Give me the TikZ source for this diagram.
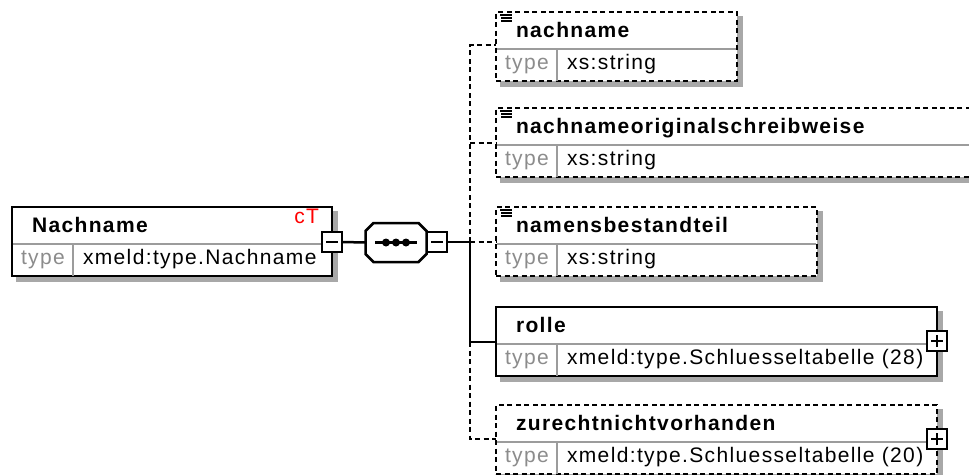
\documentclass[tikz,border=0pt]{standalone}
\usepackage{fontspec}
\setmainfont{Liberation Sans}[LetterSpace=6.5]
\usetikzlibrary{shadows,calc}

\definecolor{shadowgray}{HTML}{A8A8A8}
\definecolor{sepgray}{HTML}{9C9C9C}
\definecolor{typegray}{HTML}{8C8C8C}
\definecolor{ctred}{HTML}{FF0000}

\tikzset{
  dashpat/.style={dash pattern=on 5pt off 3.5pt},
  elem/.style={draw, line width=2.6pt, fill=white, minimum height=69pt,
    inner sep=0pt, outer sep=0pt,
    drop shadow={shadow xshift=5pt, shadow yshift=-5pt, fill=shadowgray,
      draw=shadowgray, solid, opacity=1}},
  sep/.style={draw=sepgray, line width=1.8pt, shorten <=1.3pt, shorten >=1.3pt},
  txt/.style={anchor=base west, inner sep=0pt, outer sep=0pt,
    font=\fontsize{21}{25}\selectfont},
  title/.style={txt, font=\fontsize{21}{25}\selectfont\bfseries},
  typelbl/.style={txt, text=typegray},
  typeval/.style={txt},
  tog/.style={draw, line width=2pt, fill=white, minimum size=20pt,
    inner sep=0pt, outer sep=0pt},
  minusbox/.style={tog, path picture={\draw[line width=2.2pt]
    ([xshift=-6pt]path picture bounding box.center) --
    ([xshift=6pt]path picture bounding box.center);}},
  plusbox/.style={tog, path picture={\draw[line width=2.2pt]
    ([xshift=-6pt]path picture bounding box.center) --
    ([xshift=6pt]path picture bounding box.center)
    ([yshift=-6pt]path picture bounding box.center) --
    ([yshift=6pt]path picture bounding box.center);}},
  wire/.style={line width=2.5pt},
}

% element box: name, left, top, width, border style, title, type
\newcommand\elembox[7]{%
  \node[elem, #5, minimum width=#4pt, anchor=north west] (#1) at (#2,#3) {};
  \draw[sep] ([yshift=-37pt]#1.north west) -- ([yshift=-37pt]#1.north east);
  \draw[sep, shorten >=0pt] ([xshift=61pt,yshift=-37pt]#1.north west) -- ([xshift=61pt]#1.south west);
  \node[title] (#1-title) at ([xshift=20pt,yshift=-25pt]#1.north west) {#6};
  \node[typelbl] (#1-typelbl) at ([xshift=9pt,yshift=-57pt]#1.north west) {type};
  \node[typeval] (#1-typeval) at ([xshift=71pt,yshift=-57pt]#1.north west) {#7};
}
% simple-content marker in the upper left corner of a box
\newcommand\contentmark[1]{%
  \draw[line width=1.8pt]
    ([xshift=4pt,yshift=-3pt]#1.north west) -- ([xshift=16pt,yshift=-3pt]#1.north west)
    ([xshift=5pt,yshift=-6pt]#1.north west) -- ([xshift=16pt,yshift=-6pt]#1.north west)
    ([xshift=5pt,yshift=-9pt]#1.north west) -- ([xshift=16pt,yshift=-9pt]#1.north west);
}

\begin{document}
\begin{tikzpicture}[x=1pt, y=-1pt]
\useasboundingbox (0,0) rectangle (969,474);
\clip (0,0) rectangle (969,474);

% complex type
\elembox{main}{12}{207}{320}{solid}{Nachname}{xmeld:type.Nachname}
\node[txt, anchor=base east, text=ctred] (ct) at (319,223) {cT};
\node[minusbox] (m1) at (332,242) {};

% sequence compositor
\node[minimum width=61pt, minimum height=39pt, inner sep=0pt, outer sep=0pt] (seq) at (396,242.5) {};
\fill[shadowgray, shift={(5,5)}]
  ($(seq.north west)+(8,0)$) -- ($(seq.north east)+(-8,0)$) -- ($(seq.north east)+(0,8)$) --
  ($(seq.south east)+(0,-8)$) -- ($(seq.south east)+(-8,0)$) -- ($(seq.south west)+(8,0)$) --
  ($(seq.south west)+(0,-8)$) -- ($(seq.north west)+(0,8)$) -- cycle;
\filldraw[fill=white, line width=2.5pt]
  ($(seq.north west)+(8,0)$) -- ($(seq.north east)+(-8,0)$) -- ($(seq.north east)+(0,8)$) --
  ($(seq.south east)+(0,-8)$) -- ($(seq.south east)+(-8,0)$) -- ($(seq.south west)+(8,0)$) --
  ($(seq.south west)+(0,-8)$) -- ($(seq.north west)+(0,8)$) -- cycle;
\draw[line width=2.4pt] ([xshift=-21pt]seq.center) -- ([xshift=21pt]seq.center);
\foreach \dx in {-10,0,10}
  \fill ([xshift=\dx pt]seq.center) circle (4pt);
\node[minusbox] (m2) at (437,242) {};

% child elements
\elembox{nachname}{496}{12}{241}{dashpat}{nachname}{xs:string}
\contentmark{nachname}
\elembox{orig}{496}{108}{530}{dashpat}{nachnameoriginalschreibweise}{xs:string}
\contentmark{orig}
\elembox{bestandteil}{496}{207}{321}{dashpat}{namensbestandteil}{xs:string}
\contentmark{bestandteil}
\elembox{rolle}{496}{307}{441}{solid}{rolle}{xmeld:type.Schluesseltabelle (28)}
\node[plusbox] (p1) at (937,341) {};
\elembox{zurecht}{496}{405}{441}{dashpat}{zurechtnichtvorhanden}{xmeld:type.Schluesseltabelle (20)}
\node[plusbox] (p2) at (937,439) {};

% connectors
\coordinate (bus) at (470,242);
\coordinate (c1) at ([yshift=-33pt]nachname.north west);
\coordinate (c2) at ([yshift=-35pt]orig.north west);
\coordinate (c3) at ([yshift=-35pt]bestandteil.north west);
\coordinate (c4) at ([yshift=-35pt]rolle.north west);
\coordinate (c5) at ([yshift=-34pt]zurecht.north west);

\draw[wire] (m1.east) -- (seq.west);
\draw[wire] (m2.east) -- (bus);
\draw[wire, dashpat] (bus) -- (bus |- c1) -- (c1);
\draw[wire, dashpat] (bus |- c2) -- (c2);
\draw[wire, dashpat] (bus) -- (c3);
\draw[wire] (bus) -- (bus |- c4) -- (c4);
\draw[wire, dashpat] (bus |- c4) -- (bus |- c5) -- (c5);
\end{tikzpicture}
\end{document}
